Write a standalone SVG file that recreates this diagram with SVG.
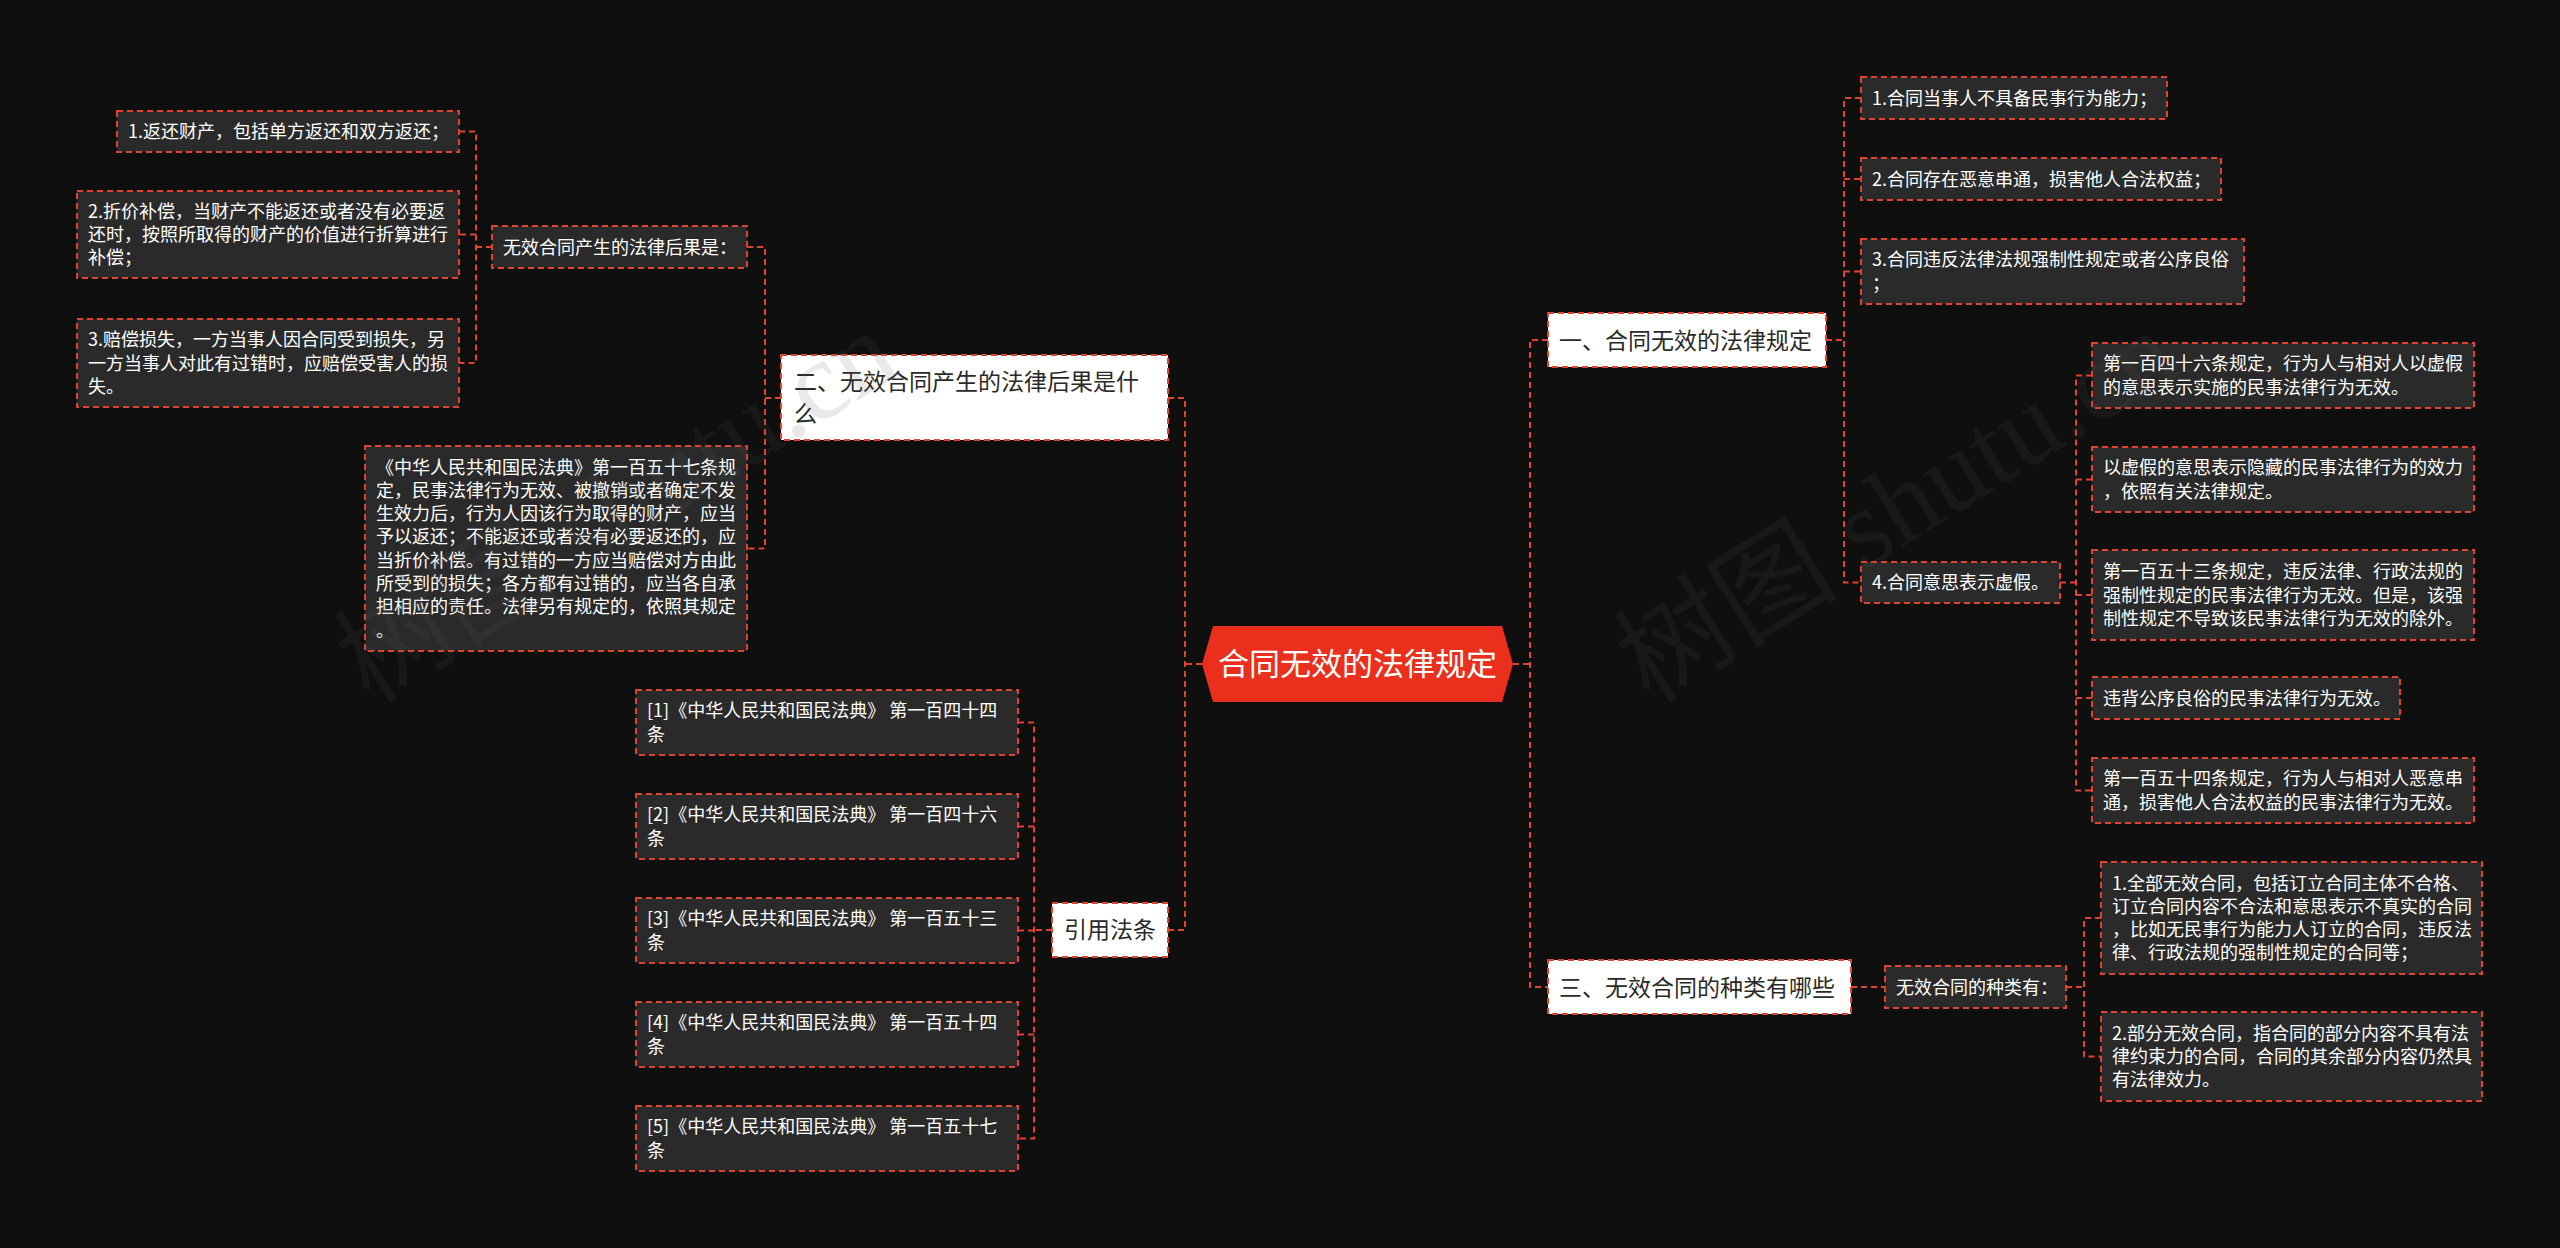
<svg xmlns="http://www.w3.org/2000/svg" width="2560" height="1248" viewBox="0 0 2560 1248">
<style>
text{font-family:"Noto Sans CJK SC","Noto Sans",sans-serif}
.leaf rect{fill:#2a2a2a;stroke:#e0432f;stroke-width:2;stroke-dasharray:6 4}
.leaf text{font-size:18px;fill:#ffffff}
.l1 rect{fill:#ffffff;stroke:#e0432f;stroke-width:2;stroke-dasharray:6 4}
.l1 text{font-size:23px;fill:#2a2a2a}
.conn path{fill:none;stroke:#e0432f;stroke-width:2;stroke-dasharray:6 4}
.wm{font-family:"Liberation Serif","Noto Sans CJK SC",serif;font-size:112px;fill:#5a5a5a;opacity:0.13}
</style>
<rect x="0" y="0" width="2560" height="1248" fill="#0f0f0f"/>
<g class="conn" id="connectors">
<path d="M1202 664 H1185 M1168 398 H1185 V930 H1168"/>
<path d="M1513 664 H1530 M1548 340 H1530 V987 H1548"/>
<path d="M1826 340 H1844 M1861 98 H1844 V582.5 H1861 M1844 179 H1861 M1844 271.5 H1861"/>
<path d="M2060 582.5 H2076 M2092 375.5 H2076 V790.5 H2092 M2076 479.5 H2092 M2076 595 H2092 M2076 698 H2092"/>
<path d="M1851 987 H1885"/>
<path d="M2066 987 H2084 M2101 918 H2084 V1056.5 H2101"/>
<path d="M781 398 H765 M747 247 H765 V548.5 H747"/>
<path d="M492 247 H476 M459 131.5 H476 V363 H459 M476 234.5 H459"/>
<path d="M1052 930 H1034 M1018 722.5 H1034 V1138.5 H1018 M1034 826.5 H1018 M1034 930.5 H1018 M1034 1034.5 H1018"/>
</g>
<g id="root">
<polygon points="1202,664 1213,626 1502,626 1513,664 1502,702 1213,702" fill="#ea2f1c"/>
<text x="1357.5" y="675" font-size="31" fill="#ffffff" text-anchor="middle">合同无效的法律规定</text>
</g>
<g id="n1" class="l1"><rect x="1548" y="313" width="278" height="54"/><text x="1559" y="349">一、合同无效的法律规定</text></g>
<g id="n1a" class="leaf"><rect x="1861" y="77" width="306" height="42"/><text x="1872" y="104.5">1.合同当事人不具备民事行为能力；</text></g>
<g id="n1b" class="leaf"><rect x="1861" y="158" width="360" height="42"/><text x="1872" y="185.5">2.合同存在恶意串通，损害他人合法权益；</text></g>
<g id="n1c" class="leaf"><rect x="1861" y="239" width="383" height="65"/><text x="1872" y="266.3">3.合同违反法律法规强制性规定或者公序良俗</text><text x="1872" y="289.6">；</text></g>
<g id="n1d" class="leaf"><rect x="1861" y="562" width="199" height="41"/><text x="1872" y="589">4.合同意思表示虚假。</text></g>
<g id="n1d1" class="leaf"><rect x="2092" y="343" width="382" height="65"/><text x="2103" y="370.3">第一百四十六条规定，行为人与相对人以虚假</text><text x="2103" y="393.6">的意思表示实施的民事法律行为无效。</text></g>
<g id="n1d2" class="leaf"><rect x="2092" y="447" width="382" height="65"/><text x="2103" y="474.3">以虚假的意思表示隐藏的民事法律行为的效力</text><text x="2103" y="497.6">，依照有关法律规定。</text></g>
<g id="n1d3" class="leaf"><rect x="2092" y="550" width="382" height="90"/><text x="2103" y="578.2">第一百五十三条规定，违反法律、行政法规的</text><text x="2103" y="601.5">强制性规定的民事法律行为无效。但是，该强</text><text x="2103" y="624.8">制性规定不导致该民事法律行为无效的除外。</text></g>
<g id="n1d4" class="leaf"><rect x="2092" y="677" width="308" height="42"/><text x="2103" y="704.5">违背公序良俗的民事法律行为无效。</text></g>
<g id="n1d5" class="leaf"><rect x="2092" y="758" width="382" height="65"/><text x="2103" y="785.3">第一百五十四条规定，行为人与相对人恶意串</text><text x="2103" y="808.6">通，损害他人合法权益的民事法律行为无效。</text></g>
<g id="n3" class="l1"><rect x="1548" y="960" width="303" height="54"/><text x="1559" y="996">三、无效合同的种类有哪些</text></g>
<g id="n3a" class="leaf"><rect x="1885" y="966" width="181" height="42"/><text x="1896" y="993.5">无效合同的种类有：</text></g>
<g id="n3a1" class="leaf"><rect x="2101" y="862" width="381" height="112"/><text x="2112" y="889.5">1.全部无效合同，包括订立合同主体不合格、</text><text x="2112" y="912.8">订立合同内容不合法和意思表示不真实的合同</text><text x="2112" y="936.1">，比如无民事行为能力人订立的合同，违反法</text><text x="2112" y="959.4">律、行政法规的强制性规定的合同等；</text></g>
<g id="n3a2" class="leaf"><rect x="2101" y="1012" width="381" height="89"/><text x="2112" y="1039.7">2.部分无效合同，指合同的部分内容不具有法</text><text x="2112" y="1063">律约束力的合同，合同的其余部分内容仍然具</text><text x="2112" y="1086.3">有法律效力。</text></g>
<g id="n2" class="l1"><rect x="781" y="355" width="387" height="85"/><text x="794" y="390">二、无效合同产生的法律后果是什</text><text x="794" y="422">么</text></g>
<g id="n2a" class="leaf"><rect x="492" y="226" width="255" height="42"/><text x="503" y="253.5">无效合同产生的法律后果是：</text></g>
<g id="n2a1" class="leaf"><rect x="117" y="111" width="342" height="41"/><text x="128" y="138">1.返还财产，包括单方返还和双方返还；</text></g>
<g id="n2a2" class="leaf"><rect x="77" y="191" width="382" height="87"/><text x="88" y="217.7">2.折价补偿，当财产不能返还或者没有必要返</text><text x="88" y="241">还时，按照所取得的财产的价值进行折算进行</text><text x="88" y="264.3">补偿；</text></g>
<g id="n2a3" class="leaf"><rect x="77" y="319" width="382" height="88"/><text x="88" y="346.2">3.赔偿损失，一方当事人因合同受到损失，另</text><text x="88" y="369.5">一方当事人对此有过错时，应赔偿受害人的损</text><text x="88" y="392.8">失。</text></g>
<g id="n2b" class="leaf"><rect x="365" y="446" width="382" height="205"/><text x="376" y="473.5">《中华人民共和国民法典》第一百五十七条规</text><text x="376" y="496.8">定，民事法律行为无效、被撤销或者确定不发</text><text x="376" y="520.1">生效力后，行为人因该行为取得的财产，应当</text><text x="376" y="543.4">予以返还；不能返还或者没有必要返还的，应</text><text x="376" y="566.7">当折价补偿。有过错的一方应当赔偿对方由此</text><text x="376" y="590">所受到的损失；各方都有过错的，应当各自承</text><text x="376" y="613.3">担相应的责任。法律另有规定的，依照其规定</text><text x="376" y="636.6">。</text></g>
<g id="n4" class="l1"><rect x="1052" y="903" width="116" height="54"/><text x="1064" y="938">引用法条</text></g>
<g id="n4a" class="leaf"><rect x="636" y="690" width="382" height="65"/><text x="647" y="717.3">[1]《中华人民共和国民法典》 第一百四十四</text><text x="647" y="740.6">条</text></g>
<g id="n4b" class="leaf"><rect x="636" y="794" width="382" height="65"/><text x="647" y="821.3">[2]《中华人民共和国民法典》 第一百四十六</text><text x="647" y="844.6">条</text></g>
<g id="n4c" class="leaf"><rect x="636" y="898" width="382" height="65"/><text x="647" y="925.3">[3]《中华人民共和国民法典》 第一百五十三</text><text x="647" y="948.6">条</text></g>
<g id="n4d" class="leaf"><rect x="636" y="1002" width="382" height="65"/><text x="647" y="1029.3">[4]《中华人民共和国民法典》 第一百五十四</text><text x="647" y="1052.6">条</text></g>
<g id="n4e" class="leaf"><rect x="636" y="1106" width="382" height="65"/><text x="647" y="1133.3">[5]《中华人民共和国民法典》 第一百五十七</text><text x="647" y="1156.6">条</text></g>
<g id="watermark">
<text class="wm" transform="translate(370,705) rotate(-32)">树图 shutu.cn</text>
<text class="wm" transform="translate(1650,705) rotate(-32)">树图 shutu.cn</text>
</g>
</svg>
